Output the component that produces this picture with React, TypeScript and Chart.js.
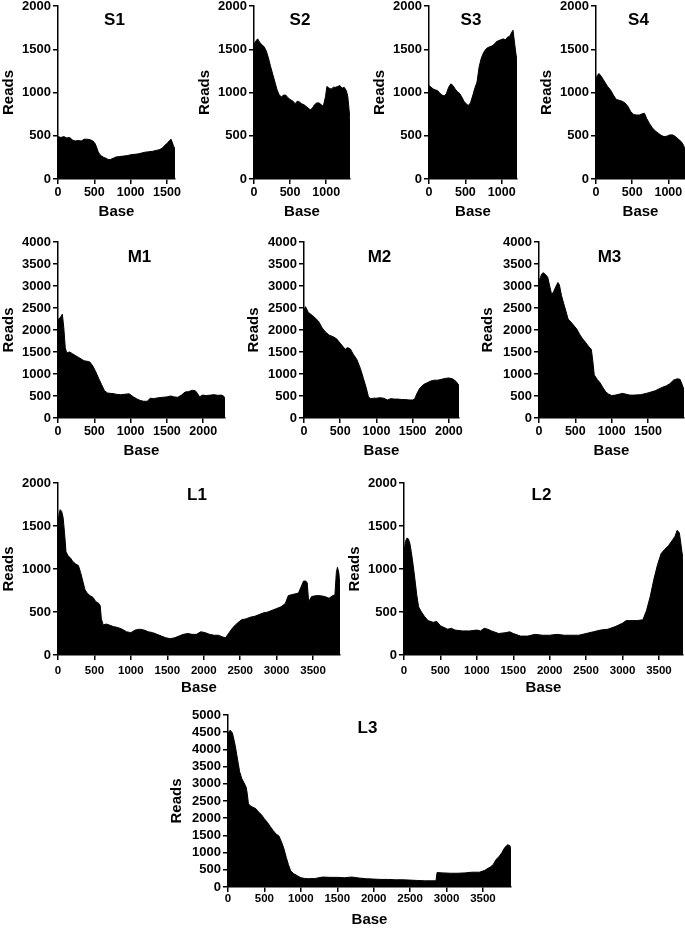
import React, { useEffect, useRef } from "react";
import { Chart, registerables } from "chart.js";

Chart.register(...registerables);

const FONT = '"Liberation Sans", Arial, Helvetica, sans-serif';

// ---------- Data ----------
const S1_BASE = [0, 40, 80, 120, 160, 200, 240, 280, 320, 360, 400, 440, 480, 510, 530, 550, 570, 600, 630, 660, 690, 720, 760, 800, 850, 900, 950, 1000, 1050, 1100, 1150, 1200, 1250, 1300, 1350, 1400, 1440, 1470, 1500, 1530, 1555, 1570, 1590, 1610];
const S1_READS = [490, 480, 490, 475, 480, 450, 440, 445, 440, 460, 460, 455, 440, 410, 370, 320, 290, 265, 250, 240, 225, 225, 240, 255, 260, 265, 270, 280, 285, 290, 300, 310, 315, 320, 330, 340, 360, 390, 410, 440, 460, 430, 380, 350];

const S2_BASE = [0, 30, 50, 80, 110, 140, 170, 200, 230, 260, 290, 320, 350, 380, 410, 440, 470, 500, 540, 570, 600, 630, 660, 690, 720, 750, 780, 810, 840, 870, 900, 930, 960, 990, 1010, 1040, 1070, 1100, 1130, 1160, 1190, 1220, 1250, 1280, 1300, 1315, 1330];
const S2_READS = [1560, 1600, 1620, 1580, 1550, 1530, 1480, 1400, 1300, 1210, 1120, 1030, 970, 950, 970, 970, 940, 920, 900, 870, 900, 890, 870, 860, 840, 820, 800, 820, 860, 880, 880, 860, 840, 950, 1070, 1050, 1040, 1060, 1060, 1070, 1080, 1050, 1060, 1020, 950, 820, 680];

const S3_BASE = [0, 30, 60, 90, 120, 150, 180, 210, 240, 270, 300, 330, 360, 390, 420, 450, 480, 510, 540, 570, 600, 630, 660, 690, 720, 750, 780, 810, 840, 870, 900, 930, 960, 990, 1020, 1050, 1080, 1110, 1140, 1155, 1170, 1190, 1210];
const S3_READS = [1080, 1060, 1040, 1030, 1020, 990, 970, 960, 990, 1060, 1100, 1080, 1040, 1010, 990, 950, 900, 870, 850, 880, 960, 1050, 1120, 1300, 1400, 1460, 1500, 1520, 1530, 1540, 1560, 1590, 1600, 1610, 1620, 1610, 1640, 1650, 1700, 1720, 1620, 1480, 1360];

const S4_BASE = [0, 20, 40, 70, 100, 130, 160, 200, 240, 280, 320, 360, 400, 440, 480, 520, 560, 600, 640, 670, 700, 740, 780, 820, 860, 900, 940, 980, 1020, 1060, 1100, 1140, 1180, 1210, 1230];
const S4_READS = [1160, 1200, 1220, 1190, 1150, 1110, 1070, 1030, 970, 920, 910, 900, 880, 840, 780, 745, 740, 740, 755, 760, 700, 640, 590, 555, 530, 505, 490, 495, 510, 510, 490, 460, 430, 390, 340];

const M1_BASE = [0, 20, 40, 60, 80, 100, 120, 160, 200, 240, 280, 320, 360, 400, 440, 480, 520, 560, 600, 640, 680, 720, 760, 800, 860, 920, 980, 1040, 1080, 1130, 1180, 1230, 1270, 1320, 1380, 1440, 1500, 1550, 1600, 1650, 1700, 1750, 1800, 1850, 1890, 1920, 1950, 1990, 2040, 2100, 2150, 2200, 2250, 2280, 2300];
const M1_READS = [2230, 2270, 2300, 2360, 2050, 1600, 1480, 1500, 1460, 1420, 1380, 1340, 1300, 1290, 1270, 1180, 1050, 900, 760, 620, 570, 560, 555, 540, 530, 540, 550, 480, 440, 400, 380, 380, 450, 440, 460, 470, 480, 500, 480, 470, 520, 590, 600, 630, 620, 560, 480, 520, 510, 520, 530, 515, 520, 500, 440];

const M2_BASE = [0, 20, 60, 100, 150, 200, 250, 300, 350, 400, 450, 500, 540, 570, 600, 640, 680, 730, 780, 820, 860, 890, 920, 960, 1000, 1050, 1100, 1150, 1200, 1250, 1300, 1350, 1400, 1450, 1500, 1530, 1560, 1600, 1650, 1700, 1750, 1800, 1850, 1900, 1950, 2000, 2050, 2100, 2140];
const M2_READS = [2450, 2530, 2400, 2350, 2280, 2200, 2050, 1950, 1880, 1850, 1800, 1700, 1620, 1560, 1600, 1570, 1450, 1330, 1120, 900, 680, 480, 440, 450, 450, 460, 450, 410, 440, 430, 430, 420, 420, 410, 410, 440, 560, 680, 760, 800, 840, 860, 860, 880, 900, 910, 890, 830, 740];

const M3_BASE = [0, 20, 40, 60, 90, 120, 150, 175, 200, 230, 260, 280, 310, 340, 370, 400, 440, 480, 520, 560, 600, 640, 680, 720, 740, 760, 800, 840, 880, 920, 960, 1000, 1050, 1100, 1150, 1200, 1250, 1300, 1400, 1500, 1600, 1700, 1750, 1800, 1850, 1900, 1940, 1970, 1995];
const M3_READS = [3100, 3200, 3280, 3300, 3260, 3200, 2980, 2800, 2870, 2980, 3080, 3030, 2780, 2600, 2430, 2250, 2180, 2100, 2020, 1900, 1800, 1720, 1630, 1560, 1300, 980, 880, 800, 690, 590, 540, 510, 520, 540, 560, 540, 520, 520, 530, 570, 620, 700, 730, 780, 860, 890, 880, 760, 640];

const L1_BASE = [0, 15, 30, 50, 70, 90, 110, 140, 170, 200, 240, 280, 310, 340, 370, 400, 440, 480, 520, 560, 580, 595, 620, 660, 700, 760, 820, 880, 940, 1000, 1060, 1120, 1180, 1240, 1300, 1360, 1420, 1480, 1540, 1600, 1660, 1720, 1780, 1840, 1900, 1960, 2020, 2080, 2140, 2200, 2260, 2300, 2340, 2400, 2460, 2520, 2580, 2640, 2700, 2760, 2820, 2880, 2940, 3000, 3060, 3120, 3160, 3200, 3250, 3300, 3340, 3370, 3400, 3420, 3440, 3480, 3540, 3600, 3660, 3720, 3770, 3800, 3820, 3835, 3855, 3870];
const L1_READS = [1530, 1640, 1690, 1670, 1600, 1420, 1200, 1150, 1130, 1090, 1060, 1040, 960, 860, 760, 720, 690, 670, 620, 600, 570, 420, 350, 360, 350, 330, 320, 300, 270, 260, 290, 300, 290, 270, 260, 240, 220, 200, 190, 200, 220, 240, 250, 240, 240, 270, 260, 240, 230, 230, 210, 200, 250, 320, 370, 410, 420, 440, 450, 470, 490, 500, 520, 540, 560, 600, 690, 700, 710, 720, 800, 860, 860, 840, 620, 680, 690, 690, 680, 660, 690, 700, 960, 1020, 950, 780];

const L2_BASE = [0, 20, 40, 60, 80, 100, 125, 150, 175, 200, 240, 280, 330, 400, 450, 500, 550, 600, 650, 700, 800, 900, 1000, 1050, 1100, 1150, 1200, 1300, 1400, 1450, 1500, 1600, 1700, 1800, 1900, 2000, 2100, 2200, 2300, 2400, 2500, 2600, 2700, 2800, 2900, 3000, 3050, 3100, 3200, 3280, 3330, 3380, 3430, 3480, 3530, 3580, 3630, 3680, 3720, 3750, 3780, 3800, 3815, 3830];
const L2_READS = [1200, 1320, 1360, 1350, 1300, 1200, 1050, 880, 700, 560, 500, 450, 400, 380, 390, 340, 320, 300, 310, 290, 280, 280, 290, 280, 310, 300, 280, 250, 260, 270, 250, 220, 220, 240, 230, 230, 240, 230, 230, 230, 250, 270, 290, 300, 330, 370, 400, 400, 400, 410, 520, 680, 880, 1050, 1180, 1230, 1270, 1330, 1380, 1450, 1420, 1300, 1200, 1120];

const L3_BASE = [0, 30, 60, 80, 100, 120, 140, 160, 190, 220, 250, 265, 280, 300, 340, 380, 420, 460, 500, 540, 580, 620, 660, 700, 740, 770, 800, 830, 860, 900, 950, 1000, 1050, 1100, 1200, 1300, 1400, 1500, 1600, 1700, 1800, 1900, 2000, 2100, 2200, 2300, 2400, 2500, 2600, 2700, 2800, 2855, 2870, 2950, 3050, 3150, 3250, 3350, 3450, 3520, 3600, 3640, 3680, 3720, 3760, 3800, 3840, 3870, 3885];
const L3_READS = [4470, 4560, 4480, 4300, 4100, 3850, 3600, 3350, 3150, 3030, 2900, 2700, 2430, 2370, 2320, 2280, 2180, 2100, 1980, 1880, 1760, 1640, 1540, 1480, 1280, 1100, 860, 650, 470, 390, 330, 270, 250, 240, 250, 290, 280, 280, 270, 290, 260, 240, 230, 220, 220, 210, 210, 200, 190, 180, 180, 180, 420, 410, 400, 400, 410, 430, 430, 480, 580, 650, 800, 880, 1000, 1150, 1230, 1200, 1080];

const X_STEP = 500; // tick spacing on the "Base" axes
const Y_STEP = 500; // tick spacing on the "Reads" axes

// ---------- Layout of the panels ----------
interface PanelDef {
  title: string;
  base: number[];
  reads: number[];
  xMax: number;
  yMax: number;
  axisX: number;
  plotTop: number;
  plotW: number;
  plotH: number;
  xTickPad: number;
  xTickSize: number;
  titleDy: number;
  readsPad: number;
}

const PANELS: PanelDef[] = [
  { title: "S1", base: S1_BASE, reads: S1_READS, xMax: 1610, yMax: 2000, axisX: 58, plotTop: 6, plotW: 117, plotH: 173, xTickPad: 1, xTickSize: 12.5, titleDy: 14, readsPad: 2 },
  { title: "S2", base: S2_BASE, reads: S2_READS, xMax: 1330, yMax: 2000, axisX: 254, plotTop: 6, plotW: 96, plotH: 173, xTickPad: 1, xTickSize: 12.5, titleDy: 14, readsPad: 2 },
  { title: "S3", base: S3_BASE, reads: S3_READS, xMax: 1210, yMax: 2000, axisX: 429, plotTop: 6, plotW: 88, plotH: 173, xTickPad: 1, xTickSize: 12.5, titleDy: 14, readsPad: 2 },
  { title: "S4", base: S4_BASE, reads: S4_READS, xMax: 1230, yMax: 2000, axisX: 596, plotTop: 6, plotW: 89, plotH: 173, xTickPad: 1, xTickSize: 12.5, titleDy: 14, readsPad: 2 },
  { title: "M1", base: M1_BASE, reads: M1_READS, xMax: 2300, yMax: 4000, axisX: 58, plotTop: 242, plotW: 167, plotH: 176, xTickPad: 1, xTickSize: 12.5, titleDy: 15, readsPad: 2 },
  { title: "M2", base: M2_BASE, reads: M2_READS, xMax: 2140, yMax: 4000, axisX: 304, plotTop: 242, plotW: 155, plotH: 176, xTickPad: 1, xTickSize: 12.5, titleDy: 15, readsPad: 1 },
  { title: "M3", base: M3_BASE, reads: M3_READS, xMax: 1995, yMax: 4000, axisX: 539, plotTop: 242, plotW: 145, plotH: 176, xTickPad: 1, xTickSize: 12.5, titleDy: 15, readsPad: 0 },
  { title: "L1", base: L1_BASE, reads: L1_READS, xMax: 3870, yMax: 2000, axisX: 58, plotTop: 483, plotW: 282, plotH: 172, xTickPad: 4, xTickSize: 11.5, titleDy: 12, readsPad: 2 },
  { title: "L2", base: L2_BASE, reads: L2_READS, xMax: 3830, yMax: 2000, axisX: 404, plotTop: 483, plotW: 279, plotH: 172, xTickPad: 4, xTickSize: 11.5, titleDy: 12, readsPad: 2 },
  { title: "L3", base: L3_BASE, reads: L3_READS, xMax: 3885, yMax: 5000, axisX: 228, plotTop: 715, plotW: 283, plotH: 172, xTickPad: 0, xTickSize: 11.5, titleDy: 13, readsPad: 0 },
];

const YW = 60; // width of the y-axis box
const PT = 12; // padding above plot area
const PR = 22; // padding right of plot area
const XH = 46; // height of the x-axis box

function stepTicks(scale: any, step: number) {
  const ticks: { value: number }[] = [];
  for (let v = 0; v <= scale.max + 1e-9; v += step) ticks.push({ value: v });
  scale.ticks = ticks;
}

function Panel({ p }: { p: PanelDef }) {
  const ref = useRef<HTMLCanvasElement>(null);

  useEffect(() => {
    const canvas = ref.current;
    if (!canvas) return;
    const titlePlugin = {
      id: "panelTitle",
      afterDatasetsDraw(chart: any) {
        const { ctx, chartArea } = chart;
        ctx.save();
        ctx.font = `bold 17px ${FONT}`;
        ctx.fillStyle = "#000";
        ctx.textAlign = "center";
        ctx.textBaseline = "middle";
        ctx.fillText(p.title, (chartArea.left + chartArea.right) / 2 - 2, chartArea.top + p.titleDy);
        ctx.restore();
      },
    };
    const axisGrid = {
      display: true,
      drawOnChartArea: false,
      drawTicks: true,
      tickLength: 5,
      color: "#000",
      lineWidth: 1.5,
    };
    const axisBorder = { display: true, color: "#000", width: 1.5 };
    const chart = new Chart(canvas, {
      type: "line",
      data: {
        datasets: [
          {
            data: p.base.map((b, i) => ({ x: b, y: p.reads[i] })),
            fill: "origin",
            backgroundColor: "#000",
            borderColor: "#000",
            borderWidth: 1,
            pointRadius: 0,
            tension: 0,
          },
        ],
      },
      options: {
        animation: false,
        responsive: false,
        devicePixelRatio: 1,
        events: [],
        layout: { padding: { left: 0, top: PT, right: PR, bottom: 0 } },
        plugins: {
          legend: { display: false },
          tooltip: { enabled: false },
          title: { display: false },
        },
        scales: {
          x: {
            type: "linear",
            min: 0,
            max: p.xMax,
            grid: axisGrid,
            border: axisBorder,
            ticks: {
              autoSkip: false,
              maxRotation: 0,
              padding: p.xTickPad,
              color: "#000",
              font: { family: FONT, size: p.xTickSize, weight: "bold" },
              callback: (v: any) => String(v),
            },
            afterBuildTicks: (s: any) => stepTicks(s, X_STEP),
            afterFit: (s: any) => {
              s.height = XH;
            },
            title: {
              display: true,
              text: "Base",
              color: "#000",
              font: { family: FONT, size: 15, weight: "bold" },
              padding: { top: 0, bottom: 4 },
            },
          },
          y: {
            type: "linear",
            min: 0,
            max: p.yMax,
            grid: axisGrid,
            border: axisBorder,
            ticks: {
              autoSkip: false,
              padding: 2,
              color: "#000",
              font: { family: FONT, size: 13, weight: "bold" },
              callback: (v: any) => String(v),
            },
            afterBuildTicks: (s: any) => stepTicks(s, Y_STEP),
            afterFit: (s: any) => {
              s.width = YW;
            },
            title: {
              display: true,
              text: "Reads",
              color: "#000",
              font: { family: FONT, size: 15, weight: "bold" },
              padding: { top: p.readsPad, bottom: 0 },
            },
          },
        },
      } as any,
      plugins: [titlePlugin],
    });
    return () => chart.destroy();
  }, [p]);

  return (
    <canvas
      ref={ref}
      width={YW + p.plotW + PR}
      height={PT + p.plotH + XH}
      style={{ position: "absolute", left: p.axisX - YW, top: p.plotTop - PT }}
    />
  );
}

export default function App() {
  return (
    <div
      style={{
        position: "absolute",
        left: 0,
        top: 0,
        width: 685,
        height: 928,
        overflow: "hidden",
        background: "#fff",
      }}
    >
      {PANELS.map((p) => (
        <Panel key={p.title} p={p} />
      ))}
    </div>
  );
}
